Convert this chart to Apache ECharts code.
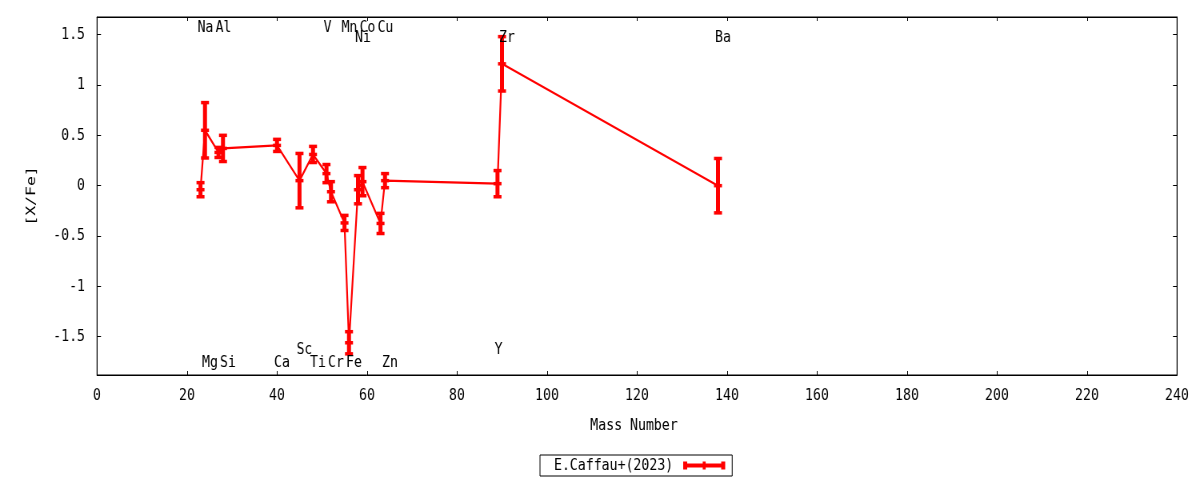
<!DOCTYPE html>
<html>
<head>
<meta charset="utf-8">
<script src="https://cdn.jsdelivr.net/npm/echarts@6/dist/echarts.min.js"></script>
<style>
  html, body { margin: 0; padding: 0; background: #fff; overflow: hidden; width: 1200px; height: 480px; }
  /* the reference was drawn wider and squeezed horizontally: reproduce that */
  #chart { width: 1500px; height: 480px; transform: scaleX(0.8); transform-origin: 0 0; }
</style>
</head>
<body>
<div id="chart"></div>
<script>
// ---- data ----
const elements    = ['Na','Mg','Al','Si','Ca','Sc','Ti','V','Cr','Mn','Fe','Ni','Co','Cu','Zn','Y','Zr','Ba'];
const massNumbers = [23, 24, 27, 28, 40, 45, 48, 51, 52, 55, 56, 58, 59, 63, 64, 89, 90, 138];
const xfeValues   = [-0.04, 0.55, 0.33, 0.37, 0.40, 0.05, 0.31, 0.12, -0.06, -0.37, -1.56, -0.04, 0.04, -0.375, 0.05, 0.02, 1.21, 0.00];
const xfeErrors   = [0.07, 0.275, 0.05, 0.13, 0.06, 0.27, 0.08, 0.09, 0.10, 0.075, 0.11, 0.14, 0.14, 0.10, 0.07, 0.13, 0.27, 0.27];
const seriesName  = 'E.Caffau+(2023)';
const xAxisTitle  = 'Mass Number';
const yAxisTitle  = '[X/Fe]';

// ---- layout of element labels (rows) ----
const labelRow = {Na:0, Al:0, V:0, Mn:0, Co:0, Cu:0, Ni:1, Zr:1, Ba:1, Sc:2, Y:2,
                  Mg:3, Si:3, Ca:3, Ti:3, Cr:3, Fe:3, Zn:3};

const FONT = '"DejaVu Sans Mono", "Liberation Mono", monospace';
const FS = 16.5;
const RED = '#ff0000';

const pts = massNumbers.map((m, i) => [m, xfeValues[i], xfeErrors[i]]);
const labelData = massNumbers.map((m, i) => [m, labelRow[elements[i]], elements[i]]);

const yFmt = v => {
  const r = Math.round(v * 2) / 2;
  if (Math.abs(r - v) > 1e-6) return '';
  return String(r);
};

const chart = echarts.init(document.getElementById('chart'), null, {renderer: 'canvas', width: 1500, height: 480});
const option = {
  animation: false,
  backgroundColor: '#fff',
  textStyle: {fontFamily: FONT, fontSize: FS, color: '#000'},
  grid: {left: 121.25, right: 28.75, top: 17, bottom: 105, show: true, borderColor: '#000', borderWidth: 1},
  legend: {
    left: 675, top: 455,
    align: 'right',
    orient: 'horizontal',
    padding: [2, 8.75, 2, 17.5],
    borderColor: '#000', borderWidth: 1,
    itemWidth: 52.5, itemHeight: 8,
    textStyle: {fontFamily: FONT, fontSize: FS, color: '#000', padding: [0, 7.5, 0, 0]},
    data: [{
      name: seriesName,
      icon: 'path://M0 2H52.5V6H0Z M0 0H5V8H0Z M24.4 0H28.1V8H24.4Z M47.5 0H52.5V8H47.5Z',
      itemStyle: {color: RED}
    }]
  },
  xAxis: [{
    type: 'value', min: 0, max: 240, interval: 20,
    name: xAxisTitle, nameLocation: 'middle', nameGap: 42,
    nameTextStyle: {fontFamily: FONT, fontSize: FS, color: '#000', padding: [0, 7.5, 0, 0]},
    axisLine: {show: true, onZero: false, lineStyle: {color: '#000', width: 1}},
    axisTick: {show: true, inside: true, length: 4, lineStyle: {color: '#000'}},
    axisLabel: {fontFamily: FONT, fontSize: FS, color: '#000', margin: 12},
    splitLine: {show: false}
  }, {
    type: 'value', min: 0, max: 240, interval: 20, position: 'top',
    axisLine: {show: true, onZero: false, lineStyle: {color: '#000', width: 1}},
    axisTick: {show: true, inside: true, length: 4, lineStyle: {color: '#000'}},
    axisLabel: {show: false},
    splitLine: {show: false}
  }],
  yAxis: [{
    type: 'value', min: -1.88, max: 1.675, splitNumber: 7,
    name: yAxisTitle, nameLocation: 'middle', nameGap: 73, nameRotate: 90,
    nameTextStyle: {fontFamily: FONT, fontSize: FS, color: '#000'},
    axisLine: {show: true, onZero: false, lineStyle: {color: '#000', width: 1}},
    axisTick: {show: true, inside: true, length: 5, lineStyle: {color: '#000'}},
    axisLabel: {fontFamily: FONT, fontSize: FS, color: '#000', margin: 15,
                showMinLabel: false, showMaxLabel: false, formatter: yFmt},
    splitLine: {show: false}
  }, {
    type: 'value', min: -1.88, max: 1.675, splitNumber: 7, position: 'right',
    axisLine: {show: true, onZero: false, lineStyle: {color: '#000', width: 1}},
    axisTick: {show: true, inside: true, length: 5, lineStyle: {color: '#000'}},
    axisLabel: {show: false},
    splitLine: {show: false}
  }],
  series: [
    {
      name: seriesName,
      type: 'line',
      data: pts.map(p => [p[0], p[1]]),
      symbol: 'none',
      lineStyle: {color: RED, width: 2.2},
      itemStyle: {color: RED},
      z: 3
    },
    {
      name: seriesName,
      type: 'custom',
      data: pts,
      itemStyle: {color: RED},
      renderItem: function (params, api) {
        const x = api.value(0), y = api.value(1), e = api.value(2);
        const c = api.coord([x, y]);
        const top = api.coord([x, y + e]);
        const bot = api.coord([x, y - e]);
        const hw = 5;
        const st = {stroke: RED, lineWidth: 5, fill: null};
        const capSt = {stroke: RED, lineWidth: 3.5, fill: null};
        return {
          type: 'group',
          children: [
            {type: 'line', shape: {x1: c[0], y1: top[1], x2: c[0], y2: bot[1]}, style: st},
            {type: 'line', shape: {x1: c[0] - hw, y1: top[1], x2: c[0] + hw, y2: top[1]}, style: capSt},
            {type: 'line', shape: {x1: c[0] - hw, y1: bot[1], x2: c[0] + hw, y2: bot[1]}, style: capSt},
            {type: 'line', shape: {x1: c[0] - hw, y1: c[1], x2: c[0] + hw, y2: c[1]}, style: capSt}
          ]
        };
      },
      z: 4
    },
    {
      name: 'labels',
      type: 'custom',
      data: labelData,
      silent: true,
      renderItem: function (params, api) {
        const m = api.value(0), row = api.value(1);
        const cs = params.coordSys;
        const px = api.coord([m, 0])[0];
        const rowY = [cs.y + 10.5, cs.y + 21, cs.y + cs.height - 25, cs.y + cs.height - 12.5];
        return {
          type: 'text',
          x: px - 3.75,
          y: rowY[row],
          style: {
            text: labelData[params.dataIndex][2],
            font: FS + 'px ' + FONT,
            fill: '#000',
            align: 'left',
            verticalAlign: 'middle'
          }
        };
      },
      z: 5
    }
  ]
};
chart.setOption(option);
</script>
</body>
</html>
